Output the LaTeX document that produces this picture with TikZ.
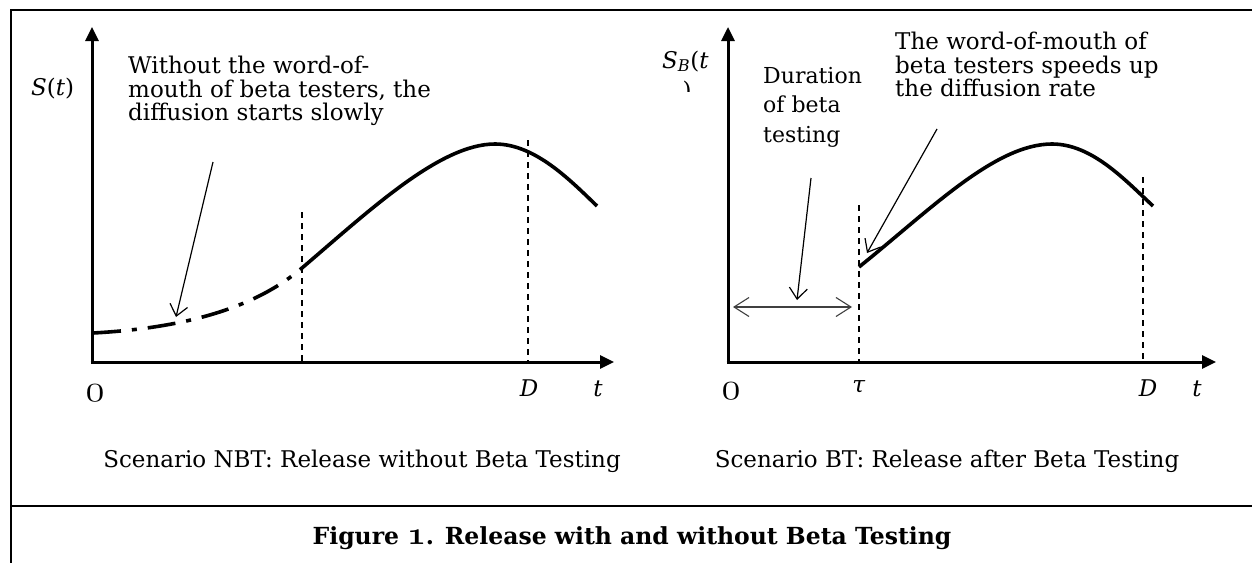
\documentclass[tikz,border=0pt]{standalone}
\usepackage{fontspec}
\usepackage{graphicx}
\setmainfont{DejaVu Serif}
\usetikzlibrary{arrows.meta}
% old-style digits taken from the Computer Modern math italic font
\newcommand{\osdigit}[1]{\scalebox{1.55}{\usefont{OML}{cmm}{m}{it}#1}}
\newcommand{\osdigitbf}[1]{\scalebox{1.3}{\usefont{OML}{cmm}{b}{it}#1}}

\begin{document}
\begin{tikzpicture}[x=1pt,y=-1pt,
  frame/.style={line width=2.4pt},
  axis/.style={line width=3pt,-{Triangle[length=14pt,width=13pt]}},
  curve/.style={line width=3.6pt},
  slowcurve/.style={line width=3.6pt,dash pattern=on 28pt off 11pt on 5pt off 11pt},
  guide/.style={line width=1.3pt,dash pattern=on 6pt off 5pt},
  callout/.style={line width=1.2pt,-{Straight Barb[length=11pt,width=18pt,line width=1.2pt]}},
  span/.style={line width=1.1pt,draw=black!75,{Straight Barb[length=15pt,width=19pt,line width=1.1pt]}-{Straight Barb[length=15pt,width=19pt,line width=1.1pt]}},
  txt/.style={font=\fontsize{23}{23.5}\selectfont,inner sep=0pt,align=left},
  tick/.style={font=\fontsize{23}{24}\selectfont,inner sep=0pt},
  zero/.style={font=\fontsize{23}{24}\selectfont,inner sep=0pt},
  caption/.style={font=\fontsize{23}{24}\selectfont,inner sep=0pt},
  title/.style={font=\fontsize{23.5}{24}\selectfont\bfseries,inner sep=0pt}]

\useasboundingbox (0,0) rectangle (1252,563);

% outer frame and the divider above the figure title
\coordinate (fTL) at (11,10);
\coordinate (fTR) at (1252,10);
\coordinate (fBL) at (11,563);
\coordinate (dL) at (11,506);
\coordinate (dR) at (1252,506);
\draw[frame] (fTR) -- (fTL) -- (fBL);
\draw[frame] (dL) -- (dR);

% ---------------- left panel: no beta testing ----------------
\coordinate (oA) at (92,362);
\coordinate (yA) at (92,27);
\coordinate (xA) at (614,362);
\draw[axis] (oA) -- (yA);
\draw[axis] ([xshift=-1.5pt]oA) -- (xA);

\coordinate (mA1) at (302,212);
\coordinate (mA0) at (302,362);
\coordinate (dA1) at (528,140);
\coordinate (dA0) at (528,362);
\draw[guide] (mA1) -- (mA0);
\draw[guide] (dA1) -- (dA0);

\coordinate (sA0) at (93,333);
\coordinate (sA1) at (302,268);
\coordinate (pA) at (495,144);
\coordinate (eA) at (597,206);
\draw[slowcurve] (sA0) .. controls (185,328) and (255,308) .. (sA1);
\draw[curve] (sA1) .. controls (370,210) and (440,144) .. (pA)
  .. controls (535,144) and (570,180) .. (eA);

\node[txt,anchor=north west] (noteA) at (128,56)
  {Without the word-of-\\mouth of beta testers, the\\diffusion starts slowly};
\coordinate (cA0) at (213,162);
\coordinate (cA1) at (176,317);
\draw[callout] (cA0) -- (cA1);

\node[tick,anchor=base west] (labSA) at (31,95) {\textit{S}(\textit{t})};
\node[zero] (zeroA) at (95,393) {\osdigit{0}};
\node[tick,anchor=base] (labDA) at (529,396) {\textit{D}};
\node[tick,anchor=base] (labtA) at (598,396) {\textit{t}};
\node[caption,anchor=base] (capA) at (362,467) {Scenario NBT: Release without Beta Testing};

% ---------------- right panel: beta testing first ----------------
\coordinate (oB) at (728,362);
\coordinate (yB) at (728,27);
\coordinate (xB) at (1216,362);
\draw[axis] (oB) -- (yB);
\draw[axis] ([xshift=-1.5pt]oB) -- (xB);

\coordinate (tB1) at (859,205);
\coordinate (tB0) at (859,362);
\coordinate (dB1) at (1143,177);
\coordinate (dB0) at (1143,362);
\draw[guide] (tB1) -- (tB0);
\draw[guide] (dB1) -- (dB0);

\coordinate (sB) at (859,267);
\coordinate (pB) at (1052,144);
\coordinate (eB) at (1153,206);
\draw[curve] (sB) .. controls (930,210) and (995,144) .. (pB)
  .. controls (1092,144) and (1125,180) .. (eB);

\coordinate (wL) at (733,307);
\coordinate (wR) at (852,307);
\draw[span] (wL) -- (wR);

\node[txt,anchor=north west,font=\fontsize{22}{29.5}\selectfont] (noteDur) at (763,67)
  {Duration\\of beta\\testing};
\coordinate (cD0) at (811,178);
\coordinate (cD1) at (797,300);
\draw[callout] (cD0) -- (cD1);

\node[txt,anchor=north west] (noteWom) at (895,32)
  {The word-of-mouth of\\beta testers speeds up\\the diffusion rate};
\coordinate (cW0) at (937,129);
\coordinate (cW1) at (867,253);
\draw[callout] (cW0) -- (cW1);

\node[tick,anchor=base west] (labSB) at (662,68) {\textit{S}\textsubscript{\textit{B}}(\textit{t}};
\begin{scope}
  \clip (675,76) rectangle (700,91);
  \node[tick,anchor=base] (labParB) at (687,98) {)};
\end{scope}
\node[zero] (zeroB) at (731,391) {\osdigit{0}};
\node[tick,anchor=base] (labTau) at (859,392) {\textit{τ}};
\node[tick,anchor=base] (labDB) at (1148,396) {\textit{D}};
\node[tick,anchor=base] (labtB) at (1197,396) {\textit{t}};
\node[caption,anchor=base] (capB) at (947,467) {Scenario BT: Release after Beta Testing};

% figure title
\node[title,anchor=base] (figTitle) at (632,544)
  {Figure \osdigitbf{1}. Release with and without Beta Testing};
\end{tikzpicture}
\end{document}
